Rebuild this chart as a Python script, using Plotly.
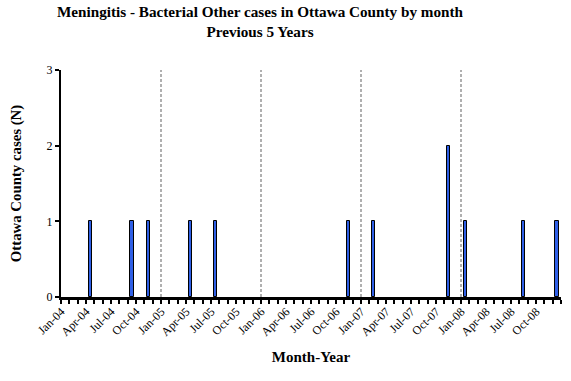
import plotly.graph_objects as go

# Months Jan-04 .. Dec-08
years = ["04", "05", "06", "07", "08"]
month_names = ["Jan", "Feb", "Mar", "Apr", "May", "Jun",
               "Jul", "Aug", "Sep", "Oct", "Nov", "Dec"]
months = [f"{m}-{y}" for y in years for m in month_names]

# Monthly case counts
cases = [0, 0, 0, 1, 0, 0, 0, 0, 1, 0, 1, 0,
         0, 0, 0, 1, 0, 0, 1, 0, 0, 0, 0, 0,
         0, 0, 0, 0, 0, 0, 0, 0, 0, 0, 1, 0,
         0, 1, 0, 0, 0, 0, 0, 0, 0, 0, 2, 0,
         1, 0, 0, 0, 0, 0, 0, 1, 0, 0, 0, 1]

# Year boundaries (position between Dec and Jan)
year_breaks = [11.5, 23.5, 35.5, 47.5]

tick_text = [m if i % 3 == 0 else "" for i, m in enumerate(months)]

serif = "Liberation Serif, Times New Roman, serif"

# outline only on bars that actually have height
outline_w = [1 if v > 0 else 0 for v in cases]

fig = go.Figure()
fig.add_trace(go.Bar(
    x=months, y=cases,
    width=0.4,
    marker=dict(color="#2f5fe6", line=dict(color="#000000", width=outline_w)),
))

for b in year_breaks:
    fig.add_shape(type="line", xref="x", yref="y",
                  x0=b, x1=b, y0=0, y1=3.1,
                  line=dict(color="#606060", width=1, dash="3px,2px"),
                  layer="below")

fig.add_annotation(
    text="<b>Meningitis - Bacterial Other cases in Ottawa County by month<br>Previous 5 Years</b>",
    xref="paper", yref="paper", x=0.398, y=1.0, yanchor="bottom",
    xanchor="center", showarrow=False, yshift=28,
    font=dict(family=serif, size=15.2),
)

fig.update_layout(
    width=571, height=381,
    margin=dict(l=61, r=10, t=70, b=84),
    paper_bgcolor="white", plot_bgcolor="white",
    showlegend=False,
    bargap=0,
    font=dict(family=serif, color="#000000", size=11),
    xaxis=dict(
        type="category",
        categoryorder="array", categoryarray=months,
        tickmode="array", tickvals=months, ticktext=tick_text,
        tickson="boundaries",
        tickangle=-45,
        ticklabelshift=-4,
        ticks="outside", ticklen=4, tickwidth=1.5, tickcolor="#000000",
        showline=True, linecolor="#000000", linewidth=2.5,
        showgrid=False, zeroline=False,
        range=[-0.5, 59.5],
        tickfont=dict(family=serif, size=12),
        title=dict(text="<b>Month-Year</b>", font=dict(family=serif, size=15), standoff=14),
    ),
    yaxis=dict(
        range=[0, 3], tickvals=[0, 1, 2, 3],
        ticks="outside", ticklen=4, tickwidth=1.5, tickcolor="#000000",
        showline=True, linecolor="#000000", linewidth=2,
        showgrid=False, zeroline=False,
        tickfont=dict(family=serif, size=12),
        title=dict(text="<b>Ottawa County cases (N)</b>", font=dict(family=serif, size=14.8), standoff=21),
    ),
)

fig.write_html("out.html")
